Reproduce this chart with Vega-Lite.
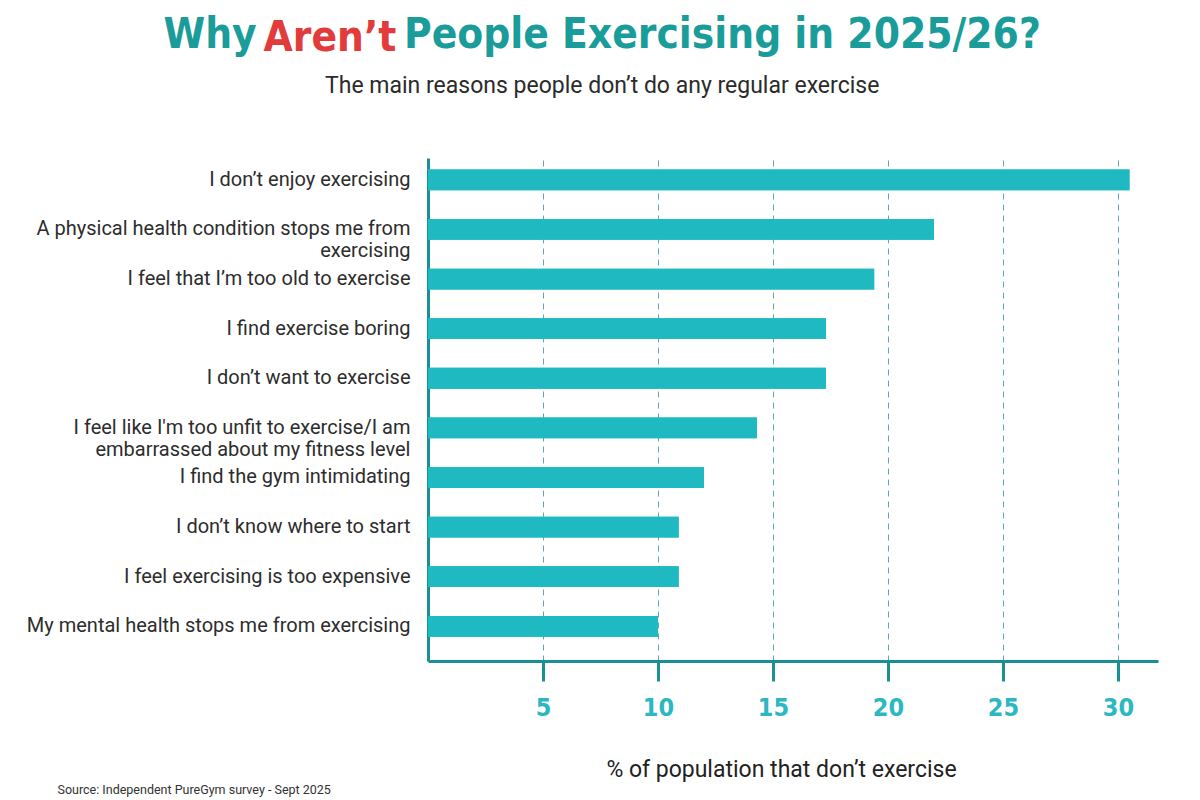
{
  "$schema": "https://vega.github.io/schema/vega-lite/v6.json",
  "autosize": {"type": "none"},
  "width": 730,
  "height": 503,
  "padding": {"left": 428, "top": 158, "right": 42, "bottom": 139},
  "background": "white",
  "title": {
    "text": "Why \u2003\u2003\u2003\u2009 People Exercising in 2025/26?",
    "subtitle": "The main reasons people don’t do any regular exercise",
    "anchor": "middle",
    "frame": "bounds",
    "dx": 10,
    "font": "DejaVu Sans Condensed, Roboto Condensed, Roboto",
    "fontSize": 42,
    "fontWeight": "bold",
    "color": "#199c9a",
    "subtitleFont": "Roboto",
    "subtitleFontSize": 23,
    "subtitleColor": "#2b2b2b",
    "subtitlePadding": 18,
    "offset": -83
  },
  "data": {
    "values": [
      {"reason": "I don’t enjoy exercising", "pct": 30.5},
      {"reason": "A physical health condition stops me from|exercising", "pct": 22.0},
      {"reason": "I feel that I’m too old to exercise", "pct": 19.4},
      {"reason": "I find exercise boring", "pct": 17.3},
      {"reason": "I don’t want to exercise", "pct": 17.3},
      {"reason": "I feel like I'm too unfit to exercise/I am|embarrassed about my fitness level", "pct": 14.3},
      {"reason": "I find the gym intimidating", "pct": 12.0},
      {"reason": "I don’t know where to start", "pct": 10.9},
      {"reason": "I feel exercising is too expensive", "pct": 10.9},
      {"reason": "My mental health stops me from exercising", "pct": 10.0}
    ]
  },
  "encoding": {
    "y": {
      "field": "reason",
      "type": "nominal",
      "sort": [
        "I don’t enjoy exercising",
        "A physical health condition stops me from|exercising",
        "I feel that I’m too old to exercise",
        "I find exercise boring",
        "I don’t want to exercise",
        "I feel like I'm too unfit to exercise/I am|embarrassed about my fitness level",
        "I find the gym intimidating",
        "I don’t know where to start",
        "I feel exercising is too expensive",
        "My mental health stops me from exercising"
      ],
      "scale": {"paddingInner": 0.58, "paddingOuter": 0.36, "align": 0.32},
      "axis": {
        "domain": true,
        "domainColor": "#1a8f94",
        "domainWidth": 3,
        "ticks": false,
        "grid": false,
        "labelPadding": 18,
        "labelLimit": 0,
        "labelFont": "Roboto",
        "labelFontSize": 20,
        "labelColor": "#2d2d2d",
        "labelLineHeight": 22,
        "labelExpr": "split(datum.label, '|')",
        "title": "Aren’t",
        "titleColor": "#e23b3b",
        "titleFont": "DejaVu Sans Condensed, Roboto Condensed, Roboto",
        "titleFontSize": 42,
        "titleFontWeight": "bold",
        "titleAngle": 0,
        "titleAlign": "left",
        "titleBaseline": "alphabetic",
        "titleX": -165,
        "titleY": -108
      }
    }
  },
  "layer": [
    {
      "mark": {"type": "bar", "color": "#1fbac1"},
      "encoding": {
        "x": {
          "field": "pct",
          "type": "quantitative",
          "scale": {"domain": [0, 31.74], "nice": false},
          "axis": {
            "orient": "bottom",
            "values": [5, 10, 15, 20, 25, 30],
            "domainColor": "#1a8f94",
            "domainWidth": 3,
            "tickColor": "#1a8f94",
            "tickWidth": 3,
            "tickSize": 20,
            "labelPadding": 14,
            "labelFont": "DejaVu Sans Condensed, Roboto Condensed, Roboto",
            "labelFontSize": 25,
            "labelFontWeight": "bold",
            "labelColor": "#2cb8c2",
            "grid": true,
            "gridColor": "#5fa8b2",
            "gridDash": [6, 5],
            "gridWidth": 1,
            "title": "% of population that don’t exercise",
            "titleFont": "Roboto",
            "titleFontSize": 23,
            "titleFontWeight": "normal",
            "titleColor": "#222222",
            "titlePadding": 38,
            "titleX": 353
          }
        }
      }
    },
    {
      "mark": {"type": "bar", "color": "#1fbac1"},
      "encoding": {
        "x": {
          "field": "pct",
          "type": "quantitative",
          "axis": {
            "orient": "top",
            "labels": false,
            "ticks": false,
            "domain": false,
            "grid": false,
            "title": "Source: Independent PureGym survey - Sept 2025",
            "titleFont": "Roboto",
            "titleFontSize": 12.5,
            "titleFontWeight": "normal",
            "titleColor": "#333333",
            "titleAngle": 0,
            "titleAlign": "left",
            "titleBaseline": "middle",
            "titleX": -371,
            "titleY": 631
          }
        }
      }
    }
  ],
  "resolve": {"axis": {"x": "independent"}},
  "config": {"view": {"stroke": null}}
}
